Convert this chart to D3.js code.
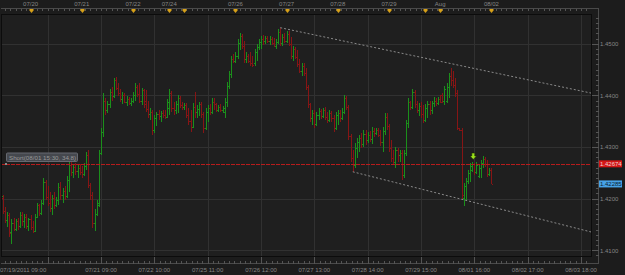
<!DOCTYPE html>
<html><head><meta charset="utf-8">
<script src="https://cdn.jsdelivr.net/npm/d3@7"></script>
<style>
html,body{margin:0;padding:0;background:#1c1c1c;}
svg{display:block;}
text{font-family:"Liberation Sans",Arial,sans-serif;}
</style></head><body>
<svg id="c" width="625" height="275"></svg>
<script>
// ---- data (hourly OHLC bars, index = bar number from 07/19/2011 09:00) ----
const open = [
1.4188,1.4183,1.4202,1.4177,1.4158,1.4169,1.4135,1.4152,1.4142,1.4156,
1.4148,1.4169,1.4156,1.4165,1.4148,1.4160,1.4146,1.4138,1.4165,1.4187,
1.4173,1.4192,1.4233,1.4204,1.4192,1.4181,1.4202,1.4188,1.4198,1.4223,
1.4208,1.4215,1.4206,1.4237,1.4265,1.4252,1.4262,1.4254,1.4260,1.4252,
1.4248,1.4263,1.4285,1.4227,1.4208,1.4152,1.4171,1.4188,1.4288,1.4329,
1.4390,1.4371,1.4383,1.4406,1.4398,1.4429,1.4415,1.4404,1.4392,1.4400,
1.4388,1.4392,1.4385,1.4390,1.4400,1.4417,1.4402,1.4390,1.4410,1.4390,
1.4373,1.4363,1.4367,1.4333,1.4356,1.4363,1.4360,1.4365,1.4362,1.4358,
1.4375,1.4404,1.4375,1.4371,1.4383,1.4394,1.4381,1.4377,1.4381,1.4362,
1.4350,1.4338,1.4377,1.4367,1.4373,1.4383,1.4363,1.4337,1.4367,1.4375,
1.4367,1.4388,1.4383,1.4371,1.4377,1.4371,1.4367,1.4388,1.4419,1.4442,
1.4471,1.4467,1.4477,1.4502,1.4515,1.4496,1.4471,1.4477,1.4467,1.4462,
1.4463,1.4483,1.4494,1.4504,1.4510,1.4506,1.4512,1.4506,1.4510,1.4502,
1.4496,1.4504,1.4523,1.4502,1.4513,1.4506,1.4519,1.4500,1.4477,1.4490,
1.4475,1.4460,1.4448,1.4456,1.4444,1.4417,1.4383,1.4356,1.4365,1.4344,
1.4362,1.4369,1.4360,1.4371,1.4358,1.4352,1.4365,1.4356,1.4337,1.4362,
1.4365,1.4356,1.4367,1.4394,1.4377,1.4321,1.4279,1.4265,1.4298,1.4310,
1.4317,1.4306,1.4325,1.4313,1.4323,1.4315,1.4331,1.4327,1.4333,1.4323,
1.4310,1.4331,1.4358,1.4340,1.4298,1.4279,1.4271,1.4294,1.4285,1.4288,
1.4246,1.4288,1.4346,1.4387,1.4377,1.4406,1.4383,1.4371,1.4379,1.4363,
1.4352,1.4375,1.4383,1.4371,1.4385,1.4390,1.4385,1.4392,1.4400,1.4390,
1.4390,1.4417,1.4437,1.4429,1.4421,1.4404,1.4337,1.4333,1.4202,1.4225,
1.4235,1.4250,1.4256,1.4267,1.4252,1.4244,1.4260,1.4269,1.4277,1.4267,
1.4248,1.4256];
const high = [
1.4198,1.4212,1.4208,1.4183,1.4175,1.4173,1.4160,1.4163,1.4160,1.4162,
1.4175,1.4175,1.4171,1.4171,1.4163,1.4169,1.4156,1.4171,1.4192,1.4190,
1.4198,1.4240,1.4237,1.4225,1.4212,1.4208,1.4213,1.4204,1.4231,1.4233,
1.4221,1.4225,1.4244,1.4271,1.4271,1.4267,1.4269,1.4265,1.4267,1.4263,
1.4269,1.4290,1.4294,1.4231,1.4213,1.4179,1.4198,1.4294,1.4337,1.4404,
1.4394,1.4390,1.4413,1.4417,1.4433,1.4435,1.4423,1.4413,1.4406,1.4404,
1.4398,1.4396,1.4394,1.4406,1.4423,1.4421,1.4423,1.4415,1.4413,1.4410,
1.4390,1.4375,1.4371,1.4362,1.4367,1.4371,1.4369,1.4371,1.4371,1.4392,
1.4413,1.4408,1.4387,1.4390,1.4400,1.4398,1.4387,1.4385,1.4385,1.4375,
1.4371,1.4385,1.4406,1.4381,1.4387,1.4387,1.4367,1.4375,1.4381,1.4383,
1.4394,1.4394,1.4385,1.4381,1.4383,1.4379,1.4394,1.4425,1.4448,1.4477,
1.4481,1.4483,1.4510,1.4521,1.4519,1.4506,1.4483,1.4481,1.4483,1.4477,
1.4490,1.4500,1.4510,1.4515,1.4517,1.4515,1.4515,1.4515,1.4513,1.4512,
1.4510,1.4529,1.4531,1.4519,1.4521,1.4525,1.4525,1.4513,1.4496,1.4494,
1.4487,1.4471,1.4462,1.4463,1.4452,1.4421,1.4385,1.4371,1.4371,1.4367,
1.4375,1.4373,1.4375,1.4377,1.4367,1.4371,1.4369,1.4362,1.4367,1.4371,
1.4371,1.4375,1.4400,1.4398,1.4381,1.4325,1.4294,1.4308,1.4317,1.4323,
1.4327,1.4333,1.4333,1.4329,1.4331,1.4338,1.4337,1.4337,1.4337,1.4333,
1.4338,1.4365,1.4365,1.4344,1.4313,1.4294,1.4300,1.4298,1.4294,1.4294,
1.4294,1.4352,1.4394,1.4390,1.4413,1.4410,1.4390,1.4385,1.4387,1.4381,
1.4383,1.4390,1.4390,1.4390,1.4396,1.4394,1.4396,1.4400,1.4404,1.4419,
1.4423,1.4444,1.4452,1.4448,1.4433,1.4410,1.4337,1.4337,1.4231,1.4240,
1.4256,1.4269,1.4271,1.4269,1.4271,1.4265,1.4275,1.4283,1.4281,1.4275,
1.4260,1.4260];
const low = [
1.4171,1.4179,1.4171,1.4152,1.4146,1.4125,1.4112,1.4137,1.4138,1.4140,
1.4144,1.4148,1.4144,1.4142,1.4138,1.4140,1.4133,1.4135,1.4162,1.4167,
1.4169,1.4188,1.4198,1.4185,1.4175,1.4169,1.4179,1.4183,1.4188,1.4198,
1.4192,1.4198,1.4202,1.4212,1.4244,1.4240,1.4246,1.4240,1.4246,1.4240,
1.4244,1.4256,1.4221,1.4198,1.4144,1.4138,1.4167,1.4183,1.4285,1.4319,
1.4362,1.4365,1.4375,1.4390,1.4394,1.4410,1.4398,1.4387,1.4383,1.4385,
1.4379,1.4381,1.4379,1.4385,1.4390,1.4396,1.4385,1.4381,1.4375,1.4367,
1.4356,1.4352,1.4323,1.4327,1.4340,1.4352,1.4348,1.4356,1.4354,1.4356,
1.4362,1.4367,1.4362,1.4363,1.4365,1.4375,1.4371,1.4371,1.4356,1.4342,
1.4329,1.4337,1.4356,1.4356,1.4360,1.4356,1.4327,1.4333,1.4348,1.4362,
1.4363,1.4371,1.4367,1.4367,1.4367,1.4365,1.4356,1.4377,1.4413,1.4433,
1.4463,1.4462,1.4471,1.4487,1.4490,1.4463,1.4463,1.4462,1.4456,1.4454,
1.4456,1.4467,1.4487,1.4490,1.4498,1.4500,1.4502,1.4498,1.4498,1.4494,
1.4490,1.4500,1.4496,1.4496,1.4502,1.4502,1.4496,1.4471,1.4467,1.4471,
1.4454,1.4444,1.4438,1.4438,1.4410,1.4375,1.4348,1.4342,1.4337,1.4340,
1.4352,1.4354,1.4356,1.4352,1.4346,1.4348,1.4348,1.4329,1.4333,1.4342,
1.4348,1.4352,1.4363,1.4371,1.4313,1.4271,1.4252,1.4260,1.4279,1.4290,
1.4298,1.4300,1.4304,1.4308,1.4310,1.4306,1.4319,1.4323,1.4319,1.4302,
1.4290,1.4323,1.4333,1.4290,1.4271,1.4265,1.4260,1.4271,1.4271,1.4237,
1.4240,1.4283,1.4337,1.4371,1.4373,1.4375,1.4365,1.4360,1.4356,1.4346,
1.4348,1.4356,1.4362,1.4363,1.4377,1.4379,1.4381,1.4385,1.4385,1.4381,
1.4385,1.4394,1.4419,1.4415,1.4396,1.4333,1.4331,1.4198,1.4185,1.4198,
1.4229,1.4233,1.4252,1.4246,1.4248,1.4240,1.4240,1.4260,1.4262,1.4242,
1.4244,1.42285];
const close = [
1.4179,1.4206,1.4177,1.4158,1.4169,1.4133,1.4152,1.4142,1.4156,1.4148,
1.4169,1.4156,1.4165,1.4148,1.4160,1.4146,1.4138,1.4165,1.4187,1.4173,
1.4192,1.4233,1.4204,1.4192,1.4181,1.4202,1.4188,1.4198,1.4223,1.4208,
1.4215,1.4206,1.4237,1.4265,1.4252,1.4262,1.4254,1.4260,1.4252,1.4248,
1.4263,1.4285,1.4227,1.4208,1.4152,1.4171,1.4192,1.4288,1.4329,1.4390,
1.4371,1.4383,1.4406,1.4398,1.4429,1.4415,1.4404,1.4392,1.4400,1.4388,
1.4392,1.4385,1.4390,1.4400,1.4417,1.4402,1.4390,1.4410,1.4383,1.4373,
1.4363,1.4367,1.4333,1.4356,1.4363,1.4360,1.4365,1.4362,1.4358,1.4388,
1.4404,1.4375,1.4371,1.4383,1.4394,1.4381,1.4377,1.4381,1.4362,1.4350,
1.4338,1.4377,1.4367,1.4373,1.4383,1.4363,1.4337,1.4367,1.4375,1.4367,
1.4388,1.4383,1.4371,1.4377,1.4371,1.4375,1.4388,1.4419,1.4442,1.4471,
1.4467,1.4477,1.4502,1.4515,1.4496,1.4471,1.4477,1.4467,1.4462,1.4458,
1.4483,1.4494,1.4504,1.4510,1.4506,1.4512,1.4506,1.4510,1.4502,1.4496,
1.4504,1.4523,1.4502,1.4513,1.4506,1.4519,1.4500,1.4477,1.4490,1.4475,
1.4460,1.4448,1.4456,1.4444,1.4417,1.4383,1.4356,1.4365,1.4344,1.4362,
1.4369,1.4360,1.4371,1.4358,1.4352,1.4365,1.4356,1.4337,1.4362,1.4365,
1.4356,1.4367,1.4394,1.4377,1.4321,1.4279,1.4265,1.4298,1.4310,1.4317,
1.4306,1.4325,1.4313,1.4323,1.4315,1.4331,1.4327,1.4333,1.4323,1.4310,
1.4331,1.4358,1.4340,1.4298,1.4279,1.4271,1.4294,1.4285,1.4288,1.4246,
1.4288,1.4346,1.4387,1.4377,1.4406,1.4383,1.4371,1.4379,1.4363,1.4352,
1.4375,1.4383,1.4371,1.4385,1.4390,1.4385,1.4392,1.4388,1.4390,1.4413,
1.4417,1.4437,1.4429,1.4421,1.4404,1.4337,1.4333,1.4208,1.4225,1.4235,
1.4250,1.4263,1.4267,1.4252,1.4265,1.4260,1.4269,1.4277,1.4267,1.4248,
1.4256,1.42285];

// top day markers (bar index where the day starts)
const dayMarkIdx    = [15, 39, 63, 80, 87, 111, 135, 159, 183, 200, 207, 231];
const dayMarkLabels = ["07/20","07/21","07/22","07/24","","07/26","07/27","07/28","07/29","","Aug","08/02"];
// bottom time labels
const timeLabelIdx = [48, 73, 98, 123, 148, 173, 198, 223, 248, 273];
const timeLabels   = ["07/21 09:00","07/22 10:00","07/25 11:00","07/26 12:00","07/27 13:00",
                      "07/28 14:00","07/29 15:00","08/01 16:00","08/02 17:00","08/03 18:00"];
const firstTimeLabel = "07/19/2011 09:00";
const gridIdx = [23, 48, 73, 98, 123, 148, 173, 198, 223, 248, 273];
const priceTicks = [1.41, 1.42, 1.43, 1.44, 1.45];
// overlays
const shortPrice = 1.42674, lastPrice = 1.42285;
const shortText = "Short(08/01 15:30, 34.8)";
const signalIdx = 222.5;
const upperTrend = [[132, 1.4531], [278.2, 1.4404]];
const lowerTrend = [[166, 1.4252], [278.2, 1.4135]];

// ---- layout ----
const W = 625, H = 275;
const L = 1, R = 592, T = 14, B = 257;
const axisX = 598.5, topLine = 8.5, botLine = 263.5;

const x = d3.scaleLinear().domain([0, 275]).range([-1.4, 585.27]);
const y = d3.scaleLinear().domain([1.41, 1.45]).range([250.3, 43.7]);

const svg = d3.select("#c");
svg.append("rect").attr("width", W).attr("height", H).attr("fill", "#1c1c1c");
svg.append("rect").attr("x", L).attr("y", T).attr("width", R - L).attr("height", B - T).attr("fill", "#1f1f1f");

const defs = svg.append("defs");
defs.append("clipPath").attr("id", "pc").append("rect")
  .attr("x", L).attr("y", T).attr("width", R - L).attr("height", B - T);

// grid
const grid = svg.append("g").attr("shape-rendering", "crispEdges").attr("stroke", "#313131");
grid.selectAll("line.v").data(gridIdx).join("line")
  .attr("x1", d => Math.round(x(d)) + 0.5).attr("x2", d => Math.round(x(d)) + 0.5)
  .attr("y1", T).attr("y2", B);
grid.selectAll("line.h").data(priceTicks).join("line")
  .attr("x1", L).attr("x2", R)
  .attr("y1", d => Math.round(y(d)) + 0.5).attr("y2", d => Math.round(y(d)) + 0.5);

// bars
const bars = svg.append("g").attr("clip-path", "url(#pc)").attr("shape-rendering", "crispEdges");
const idx = d3.range(open.length);
const col = i => close[i] >= open[i] ? "#1b8f1b" : "#861515";
bars.selectAll("g").data(idx).join("g").each(function(i) {
  const g = d3.select(this);
  const cx = Math.round(x(i));
  const yh = Math.round(y(high[i])), yl = Math.round(y(low[i]));
  g.append("rect").attr("x", cx).attr("y", yh).attr("width", 1).attr("height", Math.max(1, yl - yh)).attr("fill", col(i));
  g.append("rect").attr("x", cx - 1).attr("y", Math.round(y(open[i]))).attr("width", 1).attr("height", 1).attr("fill", col(i));
  g.append("rect").attr("x", cx + 1).attr("y", Math.round(y(close[i]))).attr("width", 1).attr("height", 1).attr("fill", col(i));
});

// trend lines
const over = svg.append("g").attr("clip-path", "url(#pc)");
const line = d3.line().x(d => x(d[0])).y(d => y(d[1]));
[upperTrend, lowerTrend].forEach(t => {
  over.append("path").attr("d", line(t)).attr("fill", "none")
    .attr("stroke", "#8a8a8a").attr("stroke-width", 1).attr("stroke-dasharray", "2,2");
});

// short line
const ys = Math.round(y(shortPrice)) + 0.5;
over.append("line").attr("x1", L).attr("x2", R).attr("y1", ys).attr("y2", ys)
  .attr("stroke", "#b81c1c").attr("stroke-width", 1).attr("stroke-dasharray", "4,1")
  .attr("shape-rendering", "crispEdges");
over.append("rect").attr("x", 5).attr("y", ys - 1.5).attr("width", 2).attr("height", 2).attr("fill", "#8a8a8a");
over.append("rect").attr("x", 6.5).attr("y", ys - 11.5).attr("width", 71).attr("height", 8.5)
  .attr("rx", 1).attr("fill", "#45484e").attr("stroke", "#666970").attr("stroke-width", 1);
over.append("text").attr("x", 9).attr("y", ys - 5).attr("font-size", 6.2).attr("fill", "#999").text(shortText);

// signal arrow
const ax = x(signalIdx), ay = y(high[222]) - 3;
over.append("path")
  .attr("d", `M${ax-1.5},${ay-6} h3 v3 h1.8 l-3.3,3.5 l-3.3,-3.5 h1.8 z`)
  .attr("fill", "#9be01c").attr("stroke", "#1a2a05").attr("stroke-width", 0.6);

// frame
svg.append("rect").attr("x", L + 0.5).attr("y", T + 0.5).attr("width", R - L - 1).attr("height", B - T - 1)
  .attr("fill", "none").attr("stroke", "#0c0c0c").attr("shape-rendering", "crispEdges");

// axis lines
const axG = svg.append("g").attr("shape-rendering", "crispEdges");
axG.append("line").attr("x1", L).attr("x2", axisX).attr("y1", topLine).attr("y2", topLine).attr("stroke", "#4a4a4a");
axG.append("line").attr("x1", L).attr("x2", axisX).attr("y1", botLine).attr("y2", botLine).attr("stroke", "#4a4a4a");
axG.append("line").attr("x1", axisX).attr("x2", axisX).attr("y1", topLine).attr("y2", botLine).attr("stroke", "#4a4a4a");

const minorIdx = d3.range(-2, 278, 2.5);
axG.selectAll("line.tt").data(minorIdx.filter(d => x(d) > L && x(d) < R)).join("line")
  .attr("x1", d => Math.round(x(d)) + 0.5).attr("x2", d => Math.round(x(d)) + 0.5)
  .attr("y1", topLine).attr("y2", topLine + 2.5).attr("stroke", "#555");
axG.selectAll("line.bt").data(minorIdx.filter(d => x(d) > L && x(d) < R)).join("line")
  .attr("x1", d => Math.round(x(d)) + 0.5).attr("x2", d => Math.round(x(d)) + 0.5)
  .attr("y1", botLine - 2.5).attr("y2", botLine).attr("stroke", "#555");
axG.selectAll("line.bg").data(gridIdx).join("line")
  .attr("x1", d => Math.round(x(d)) + 0.5).attr("x2", d => Math.round(x(d)) + 0.5)
  .attr("y1", B).attr("y2", botLine).attr("stroke", "#555");

// right axis ticks
const minorP = d3.range(1.405, 1.4585, 0.001).filter(p => y(p) > T && y(p) < B);
axG.selectAll("line.rt").data(minorP).join("line")
  .attr("x1", axisX - 3).attr("x2", axisX)
  .attr("y1", d => Math.round(y(d)) + 0.5).attr("y2", d => Math.round(y(d)) + 0.5).attr("stroke", "#555");
axG.selectAll("line.rM").data(priceTicks).join("line")
  .attr("x1", R).attr("x2", axisX)
  .attr("y1", d => Math.round(y(d)) + 0.5).attr("y2", d => Math.round(y(d)) + 0.5).attr("stroke", "#555");

const txt = svg.append("g").attr("font-size", 6).attr("fill", "#858585");
txt.selectAll("text.p").data(priceTicks).join("text")
  .attr("x", 600).attr("y", d => y(d) + 2.2).text(d => d.toFixed(4));

// day markers
const dm = svg.append("g");
dm.selectAll("path").data(dayMarkIdx).join("path")
  .attr("d", d => { const cx = Math.round(x(d)) + 0.5; return `M${cx-2},${topLine+0.5} h4 v1.5 l-2,2.5 l-2,-2.5 z`; })
  .attr("fill", "#d6a019");
dm.selectAll("text").data(dayMarkIdx).join("text")
  .attr("x", d => x(d)).attr("y", 6.3).attr("text-anchor", "middle")
  .attr("font-size", 6).attr("fill", "#858585").text((d, i) => dayMarkLabels[i]);

// bottom labels
txt.append("text").attr("x", 0).attr("y", 271.5).text(firstTimeLabel);
txt.selectAll("text.t").data(timeLabelIdx).join("text")
  .attr("x", d => x(d)).attr("y", 271.5).attr("text-anchor", "middle").text((d, i) => timeLabels[i]);

// price flags
const flags = [[shortPrice, "#d41616", "#f0d0d0"], [lastPrice, "#47a2e6", "#0a1c30"]];
flags.forEach(([p, bg, fg]) => {
  const yy = y(p);
  svg.append("rect").attr("x", 599).attr("y", yy - 3.5).attr("width", 23).attr("height", 7).attr("fill", bg);
  svg.append("text").attr("x", 600).attr("y", yy + 2.2).attr("font-size", 6).attr("fill", fg).text(p.toFixed(5));
});
</script>
</body></html>
